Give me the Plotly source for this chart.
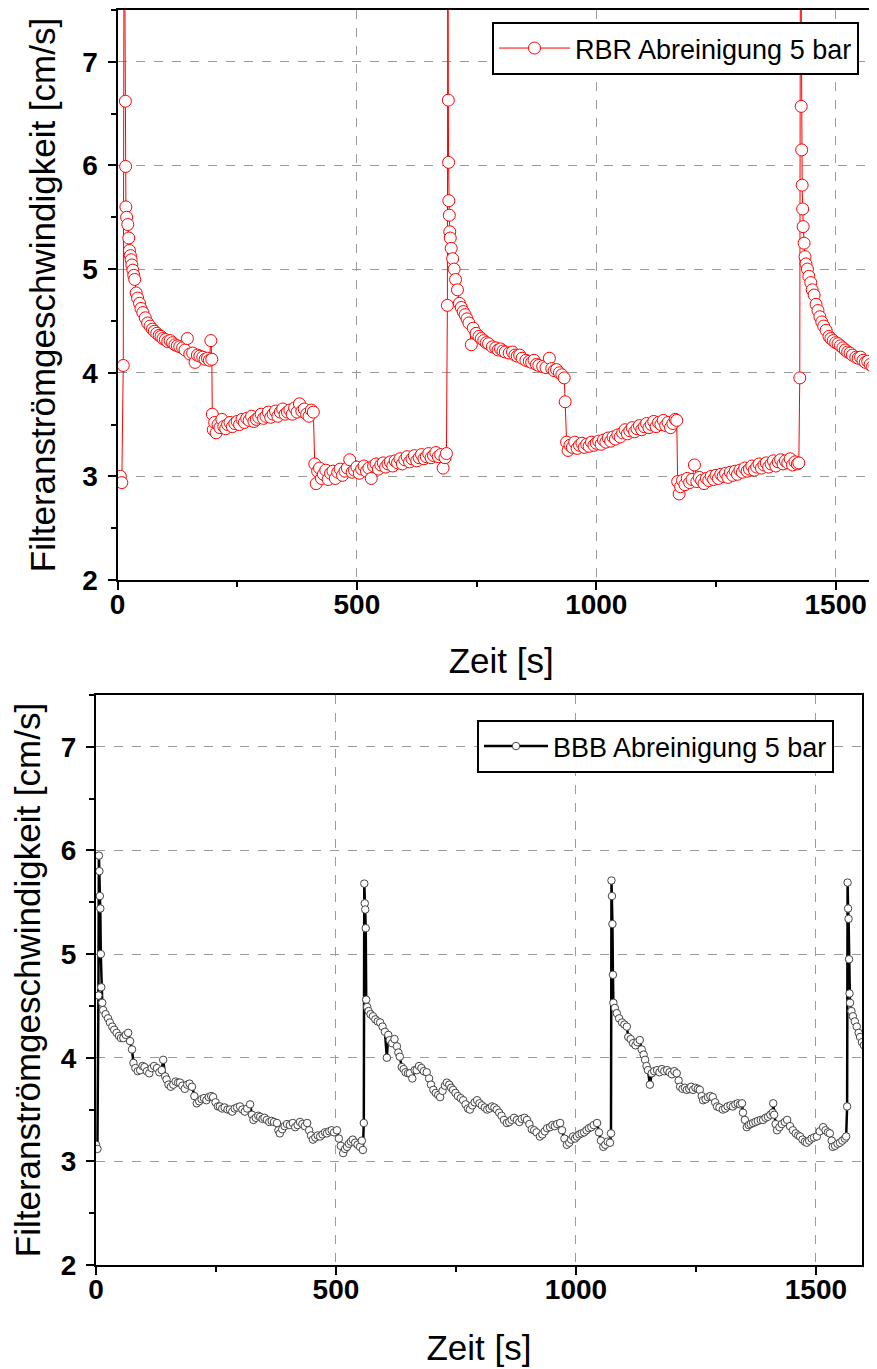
import plotly.graph_objects as go

# ---------------- RBR (top) ----------------
rbr_t_c1 = [0, 3, 6, 9, 12, 14, 16.5, 17, 17.5, 19, 21.5, 23.5, 25, 27, 28.5, 30, 32, 34, 36, 39, 42, 46, 49, 53,
            58, 63, 68, 73, 77, 82, 87, 91, 95, 100, 105, 110, 115, 120, 125, 130, 136, 141, 146, 151, 157, 162,
            167, 172, 178, 183, 188, 192, 195, 197]
rbr_v_c1 = [2.98, 2.95, 3.00, 2.94, 4.07, 9.0, 6.62, 5.99, 5.60, 5.50, 5.43, 5.30, 5.18, 5.13, 5.09, 5.04, 4.99,
            4.94, 4.90, 4.77, 4.72, 4.67, 4.62, 4.58, 4.53, 4.48, 4.45, 4.42, 4.40, 4.38, 4.36, 4.35, 4.33, 4.32,
            4.30, 4.31, 4.29, 4.27, 4.26, 4.25, 4.24, 4.22, 4.33, 4.18, 4.19, 4.10, 4.17, 4.16, 4.15, 4.13, 4.14,
            4.12, 4.31, 4.13]
rbr_t_s1 = [198, 200, 203, 206, 210, 214, 218, 222, 226, 230, 235, 240, 245, 250, 255, 260, 265, 270, 275, 280,
            285, 290, 295, 300, 305, 310, 315, 320, 325, 330, 335, 340, 345, 350, 355, 360, 365, 370, 375, 380,
            385, 390, 395, 400, 405, 409]
rbr_v_s1 = [3.60, 3.45, 3.52, 3.42, 3.50, 3.47, 3.55, 3.48, 3.46, 3.50, 3.52, 3.48, 3.51, 3.53, 3.50, 3.55, 3.52,
            3.56, 3.54, 3.58, 3.53, 3.55, 3.57, 3.60, 3.56, 3.58, 3.62, 3.57, 3.60, 3.63, 3.58, 3.62, 3.65, 3.60,
            3.62, 3.64, 3.60, 3.66, 3.62, 3.70, 3.63, 3.65, 3.60, 3.58, 3.64, 3.62]
rbr_t_s2 = [412, 415, 418, 422, 426, 430, 435, 440, 445, 450, 455, 460, 465, 470, 475, 480, 485, 490, 495, 500,
            505, 510, 515, 520, 525, 530, 535, 540, 545, 550, 555, 560, 565, 570, 575, 580, 585, 590, 595, 600,
            605, 610, 615, 620, 625, 630, 635, 640, 645, 650, 655, 660, 665, 670, 675, 680, 684, 687]
rbr_v_s2 = [3.12, 2.93, 3.05, 3.08, 2.98, 3.02, 3.06, 2.97, 3.03, 3.05, 2.98, 3.04, 3.07, 3.01, 3.05, 3.08, 3.16,
            3.04, 3.06, 3.09, 3.03, 3.07, 3.10, 3.05, 3.08, 2.98, 3.10, 3.12, 3.07, 3.11, 3.13, 3.09, 3.12, 3.14,
            3.10, 3.15, 3.13, 3.17, 3.12, 3.16, 3.19, 3.14, 3.17, 3.20, 3.15, 3.18, 3.21, 3.17, 3.19, 3.22, 3.18,
            3.20, 3.23, 3.19, 3.21, 3.08, 3.18, 3.22]
rbr_t_c2 = [689, 690, 691, 691.5, 692, 693, 694, 695, 697, 700, 703, 706, 710, 714, 718, 722, 726, 730, 734, 739,
            743, 749, 755, 760, 765, 770, 775, 783, 790, 795, 800, 805, 810, 818, 825, 830, 835, 840, 845, 853,
            860, 865, 870, 875, 880, 888, 895, 902, 907, 912, 917, 923, 928, 933, 935]
rbr_v_c2 = [4.65, 9.0, 6.63, 6.03, 5.66, 5.52, 5.36, 5.30, 5.20, 5.10, 5.00, 4.90, 4.80, 4.67, 4.63, 4.59, 4.56,
            4.52, 4.48, 4.27, 4.43, 4.38, 4.35, 4.33, 4.31, 4.29, 4.28, 4.25, 4.24, 4.22, 4.23, 4.21, 4.20, 4.19,
            4.20, 4.17, 4.16, 4.17, 4.14, 4.12, 4.11, 4.10, 4.12, 4.08, 4.07, 4.06, 4.05, 4.14, 4.04, 4.02, 4.03,
            4.00, 3.98, 3.95, 3.72]
rbr_t_s3 = [938, 941, 945, 950, 955, 960, 965, 970, 975, 980, 985, 990, 995, 1000, 1005, 1010, 1015, 1020, 1025,
            1030, 1035, 1040, 1045, 1050, 1055, 1060, 1065, 1070, 1075, 1080, 1085, 1090, 1095, 1100, 1105, 1110,
            1115, 1120, 1125, 1130, 1135, 1140, 1145, 1150, 1155, 1160, 1165, 1168]
rbr_v_s3 = [3.33, 3.25, 3.30, 3.28, 3.33, 3.27, 3.30, 3.32, 3.28, 3.31, 3.29, 3.33, 3.30, 3.32, 3.34, 3.31, 3.35,
            3.33, 3.37, 3.34, 3.38, 3.36, 3.40, 3.38, 3.42, 3.45, 3.41, 3.44, 3.47, 3.43, 3.46, 3.49, 3.45, 3.48,
            3.51, 3.47, 3.50, 3.53, 3.48, 3.52, 3.50, 3.54, 3.49, 3.52, 3.47, 3.51, 3.55, 3.54]
rbr_t_s4 = [1170, 1173, 1176, 1180, 1185, 1190, 1195, 1200, 1205, 1210, 1215, 1220, 1225, 1230, 1235, 1240, 1245,
            1250, 1255, 1260, 1265, 1270, 1275, 1280, 1285, 1290, 1295, 1300, 1305, 1310, 1315, 1320, 1325, 1330,
            1335, 1340, 1345, 1350, 1355, 1360, 1365, 1370, 1375, 1380, 1385, 1390, 1395, 1400, 1405, 1410, 1415,
            1420, 1423]
rbr_v_s4 = [2.95, 2.83, 2.90, 2.96, 2.92, 2.98, 2.94, 2.97, 3.11, 2.95, 2.99, 2.96, 2.93, 2.98, 2.96, 3.00, 2.97,
            3.01, 2.98, 3.02, 3.00, 3.03, 2.99, 3.04, 3.01, 3.05, 3.02, 3.06, 3.04, 3.08, 3.05, 3.07, 3.10, 3.06,
            3.09, 3.12, 3.08, 3.11, 3.13, 3.09, 3.12, 3.15, 3.10, 3.14, 3.16, 3.12, 3.15, 3.13, 3.17, 3.11, 3.14,
            3.12, 3.13]
rbr_t_c3 = [1425, 1426.5, 1428, 1429, 1430, 1431, 1432, 1434, 1436, 1438, 1441, 1444, 1448, 1451, 1455, 1459,
            1463, 1467, 1471, 1475, 1480, 1486, 1490, 1495, 1500, 1505, 1510, 1515, 1520, 1525, 1530, 1535, 1542,
            1547, 1552, 1557, 1562, 1567, 1572, 1577, 1582, 1587, 1592, 1597]
rbr_v_c3 = [3.95, 9.0, 6.57, 6.15, 5.81, 5.58, 5.41, 5.25, 5.12, 5.05, 5.00, 4.93, 4.87, 4.80, 4.75, 4.66, 4.60,
            4.54, 4.49, 4.45, 4.41, 4.35, 4.33, 4.31, 4.29, 4.28, 4.26, 4.24, 4.22, 4.20, 4.19, 4.17, 4.15, 4.14,
            4.15, 4.12, 4.10, 4.11, 4.08, 4.06, 4.07, 4.05, 4.04, 4.03]

# ---------------- BBB (bottom) ----------------
bbb_t_c1 = [0, 3, 5, 6, 7, 8, 9, 10, 11, 13, 15, 20, 25, 29, 34, 38, 43, 48, 52, 57, 62, 67, 71, 75, 78, 82, 87,
            92, 97, 101, 106, 111, 116, 121, 127, 132, 137, 140, 144, 147, 151, 156, 161, 166, 171, 175, 180, 185,
            190, 195, 200, 205, 210, 215, 220, 225, 230, 235, 240, 244, 249, 254, 258, 263, 268, 274, 279, 284,
            289, 294, 300, 305, 310, 315, 321, 325, 328, 333, 338, 342, 347, 351, 356, 361, 366, 371, 377, 380,
            383, 388, 393, 398, 404, 410, 415, 420, 425, 430, 435, 440, 444, 448, 452, 457, 462, 467, 472, 477,
            481, 486, 491, 496, 502, 506, 510, 515, 519, 523, 527, 531, 535, 540, 545, 550, 554, 556, 558]
bbb_v_c1 = [3.16, 3.12, 4.60, 5.95, 5.80, 5.56, 5.44, 5.00, 4.68, 4.53, 4.46, 4.42, 4.38, 4.34, 4.30, 4.27, 4.24,
            4.21, 4.19, 4.19, 4.22, 4.24, 4.16, 4.08, 3.95, 3.90, 3.87, 3.88, 3.92, 3.91, 3.87, 3.85, 3.90, 3.92,
            3.90, 3.86, 3.88, 3.98, 3.82, 3.79, 3.74, 3.72, 3.74, 3.77, 3.76, 3.76, 3.73, 3.70, 3.74, 3.75, 3.72,
            3.63, 3.56, 3.58, 3.60, 3.61, 3.59, 3.62, 3.63, 3.62, 3.57, 3.53, 3.53, 3.51, 3.52, 3.50, 3.50, 3.48,
            3.51, 3.52, 3.53, 3.50, 3.48, 3.51, 3.55, 3.45, 3.40, 3.42, 3.44, 3.43, 3.41, 3.42, 3.40, 3.38, 3.39,
            3.38, 3.37, 3.30, 3.27, 3.31, 3.34, 3.36, 3.35, 3.37, 3.33, 3.35, 3.38, 3.36, 3.34, 3.37, 3.30, 3.25,
            3.21, 3.23, 3.25, 3.24, 3.26, 3.28, 3.27, 3.29, 3.30, 3.28, 3.30, 3.22, 3.15, 3.08, 3.12, 3.14, 3.17,
            3.19, 3.21, 3.18, 3.16, 3.14, 3.20, 3.11, 3.37]
bbb_t_c2 = [559, 560, 561, 562, 563, 565, 568, 572, 577, 582, 587, 592, 597, 602, 606, 609, 612, 617, 622, 627,
            630, 633, 637, 641, 645, 650, 654, 659, 664, 668, 673, 678, 683, 689, 694, 698, 703, 708, 713, 717,
            722, 727, 731, 736, 740, 744, 749, 754, 760, 765, 770, 775, 779, 784, 789, 794, 799, 804, 810, 815,
            820, 825, 830, 835, 840, 845, 850, 856, 861, 866, 871, 877, 882, 887, 893, 898, 903, 908, 913, 918,
            925, 930, 935, 940, 946, 951, 956, 961, 967, 971, 976, 981, 986, 990, 994, 998, 1002, 1007, 1012,
            1017, 1022, 1027, 1032, 1037, 1044, 1048, 1052, 1057, 1061, 1066, 1071, 1073]
bbb_v_c2 = [5.68, 5.49, 5.43, 5.25, 4.56, 4.49, 4.45, 4.42, 4.40, 4.37, 4.35, 4.34, 4.30, 4.25, 4.00, 4.22, 4.17,
            4.14, 4.18, 4.11, 4.05, 4.01, 3.91, 3.89, 3.86, 3.85, 3.85, 3.80, 3.88, 3.88, 3.92, 3.90, 3.87, 3.86,
            3.80, 3.74, 3.69, 3.66, 3.64, 3.62, 3.68, 3.73, 3.76, 3.74, 3.71, 3.69, 3.66, 3.63, 3.61, 3.59, 3.55,
            3.51, 3.50, 3.54, 3.57, 3.59, 3.56, 3.54, 3.52, 3.50, 3.51, 3.53, 3.52, 3.50, 3.47, 3.44, 3.40, 3.37,
            3.38, 3.40, 3.42, 3.40, 3.38, 3.41, 3.42, 3.40, 3.36, 3.31, 3.30, 3.28, 3.24, 3.26, 3.29, 3.32, 3.33,
            3.35, 3.34, 3.36, 3.37, 3.30, 3.22, 3.16, 3.18, 3.21, 3.24, 3.22, 3.24, 3.26, 3.27, 3.28, 3.30, 3.32,
            3.33, 3.35, 3.37, 3.28, 3.20, 3.14, 3.16, 3.19, 3.18, 3.27]
bbb_t_c3 = [1074, 1075, 1076, 1077, 1078, 1081, 1085, 1090, 1096, 1101, 1106, 1109, 1114, 1119, 1124, 1128, 1133,
            1137, 1141, 1144, 1147, 1150, 1154, 1158, 1163, 1169, 1174, 1179, 1184, 1190, 1195, 1200, 1205, 1210,
            1214, 1217, 1222, 1227, 1231, 1236, 1240, 1244, 1249, 1254, 1258, 1262, 1265, 1270, 1275, 1280, 1285,
            1290, 1294, 1299, 1306, 1311, 1316, 1322, 1327, 1332, 1337, 1342, 1346, 1348, 1352, 1356, 1360, 1364,
            1369, 1374, 1379, 1385, 1390, 1395, 1400, 1405, 1410, 1411, 1413, 1416, 1419, 1424, 1429, 1435, 1440,
            1446, 1452, 1458, 1463, 1467, 1472, 1477, 1481, 1486, 1491, 1496, 1502, 1508, 1515, 1520, 1525, 1529,
            1533, 1535, 1540, 1545, 1550, 1555, 1560, 1563, 1565]
bbb_v_c3 = [5.71, 5.56, 5.29, 4.80, 4.53, 4.48, 4.43, 4.38, 4.34, 4.32, 4.30, 4.20, 4.18, 4.14, 4.12, 4.15, 4.17,
            4.08, 4.03, 3.98, 3.92, 3.88, 3.74, 3.85, 3.87, 3.88, 3.86, 3.89, 3.87, 3.88, 3.86, 3.84, 3.87, 3.85,
            3.78, 3.72, 3.70, 3.71, 3.69, 3.70, 3.72, 3.69, 3.71, 3.70, 3.69, 3.63, 3.59, 3.60, 3.62, 3.63, 3.62,
            3.57, 3.53, 3.52, 3.50, 3.51, 3.53, 3.54, 3.53, 3.55, 3.56, 3.55, 3.56, 3.47, 3.40, 3.33, 3.35, 3.36,
            3.37, 3.38, 3.39, 3.40, 3.40, 3.42, 3.43, 3.45, 3.47, 3.56, 3.45, 3.36, 3.30, 3.33, 3.36, 3.38, 3.40,
            3.34, 3.30, 3.27, 3.25, 3.24, 3.21, 3.19, 3.18, 3.20, 3.22, 3.23, 3.24, 3.29, 3.33, 3.30, 3.28, 3.27,
            3.20, 3.14, 3.15, 3.17, 3.18, 3.20, 3.22, 3.24, 3.53]
bbb_t_c4 = [1566, 1567, 1568, 1569, 1570, 1571, 1574, 1577, 1581, 1585, 1589, 1592, 1596, 1600]
bbb_v_c4 = [5.69, 5.44, 5.34, 4.95, 4.62, 4.53, 4.45, 4.40, 4.35, 4.30, 4.24, 4.20, 4.15, 4.12]

y_ticks = [2, 3, 4, 5, 6, 7]
x_ticks = [0, 500, 1000, 1500]

rbr_t = rbr_t_c1 + rbr_t_s1 + rbr_t_s2 + rbr_t_c2 + rbr_t_s3 + rbr_t_s4 + rbr_t_c3
rbr_v = rbr_v_c1 + rbr_v_s1 + rbr_v_s2 + rbr_v_c2 + rbr_v_s3 + rbr_v_s4 + rbr_v_c3
bbb_t = bbb_t_c1 + bbb_t_c2 + bbb_t_c3 + bbb_t_c4
bbb_v = bbb_v_c1 + bbb_v_c2 + bbb_v_c3 + bbb_v_c4

W, H = 877, 1369
OFF = 8  # page body margin in the browser
FONT = "Liberation Sans, Arial, sans-serif"

fig = go.Figure()
fig.add_trace(go.Scatter(
    x=rbr_t, y=rbr_v, mode="lines+markers", name="RBR Abreinigung 5 bar",
    line=dict(color="#ff0000", width=1),
    marker=dict(symbol="circle", size=12, color="white", line=dict(color="#ff0000", width=1)),
    xaxis="x", yaxis="y", legend="legend"))
fig.add_trace(go.Scatter(
    x=bbb_t, y=bbb_v, mode="lines+markers", name="BBB Abreinigung 5 bar",
    line=dict(color="#000000", width=2.5),
    marker=dict(symbol="circle", size=7.5, color="white", line=dict(color="#444444", width=1)),
    xaxis="x2", yaxis="y2", legend="legend2"))


def px_x(p):
    return (p - OFF) / W


def px_y(p):
    return 1 - (p - OFF) / H


axis_common = dict(
    showline=True, linecolor="black", linewidth=2, mirror=True,
    ticks="outside", ticklen=8, tickwidth=2, tickcolor="black",
    showgrid=True, gridcolor="#9a9a9a", griddash="dash", gridwidth=1,
    zeroline=False, automargin=False,
    tickfont=dict(family=FONT, size=28, color="black", weight="bold"),
)
minor_x = dict(dtick=250, tick0=0, ticks="outside", ticklen=5, tickwidth=2, tickcolor="black", showgrid=False)
minor_y = dict(dtick=0.5, tick0=0, ticks="outside", ticklen=5, tickwidth=2, tickcolor="black", showgrid=False)
title_font = dict(family=FONT, size=35, color="black")

fig.update_layout(
    width=W, height=H, margin=dict(l=0, r=0, t=0, b=0, autoexpand=False),
    paper_bgcolor="white", plot_bgcolor="white",
    font=dict(family=FONT, color="black"),
    xaxis=dict(axis_common, domain=[px_x(117.5), 1.0], range=[0, 1603], tickvals=x_ticks, minor=minor_x,
               ticklabelstandoff=-10,
               title=dict(text="Zeit [s]", font=title_font, standoff=30), anchor="y"),
    yaxis=dict(axis_common, domain=[px_y(580), px_y(10)], range=[2, 7.5], tickvals=y_ticks, mirror=False,
               minor=minor_y, ticklabelstandoff=4,
               title=dict(text="Filteranströmgeschwindigkeit [cm/s]", font=title_font, standoff=16), anchor="x"),
    xaxis2=dict(axis_common, domain=[px_x(96), px_x(862)], range=[0, 1596], tickvals=x_ticks, minor=minor_x,
                ticklabelstandoff=-10,
                title=dict(text="Zeit [s]", font=title_font, standoff=32), anchor="y2"),
    yaxis2=dict(axis_common, domain=[px_y(1265), px_y(695)], range=[2, 7.5], tickvals=y_ticks, minor=minor_y,
                ticklabelstandoff=4,
                title=dict(text="Filteranströmgeschwindigkeit [cm/s]", font=title_font, standoff=16), anchor="x2"),
    legend=dict(x=px_x(492), y=px_y(22), xanchor="left", yanchor="top",
                bgcolor="white", bordercolor="black", borderwidth=2,
                font=dict(family=FONT, size=27, color="black"), itemwidth=71),
    legend2=dict(x=px_x(477), y=px_y(720), xanchor="left", yanchor="top",
                 bgcolor="white", bordercolor="black", borderwidth=2,
                 font=dict(family=FONT, size=27, color="black"), itemwidth=64),
    showlegend=True,
)

fig.write_html("out.html")
